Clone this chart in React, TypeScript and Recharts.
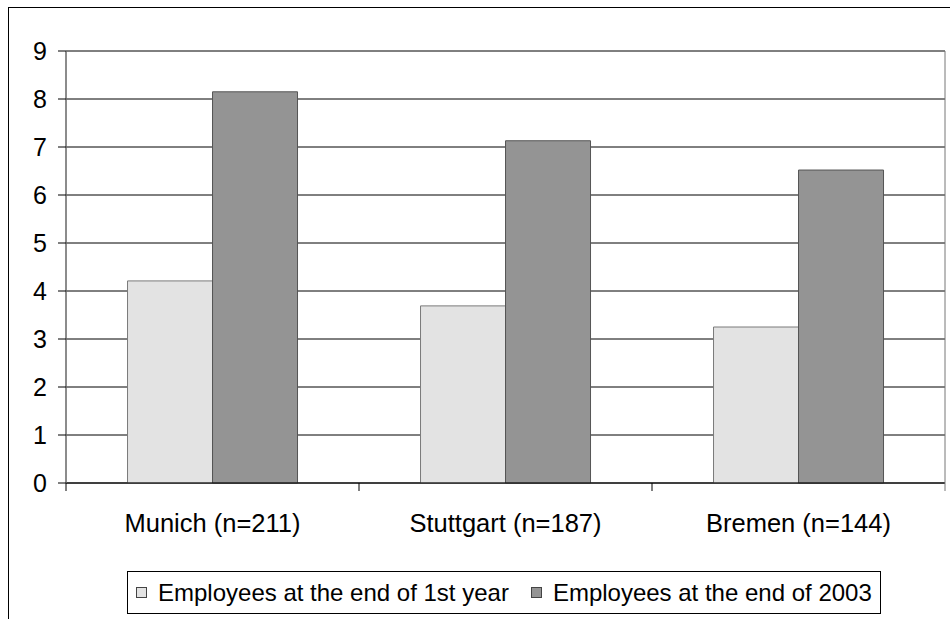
import React from "react";
import { Bar, BarChart, CartesianGrid, XAxis, YAxis } from "recharts";

const cities = ["Munich (n=211)", "Stuttgart (n=187)", "Bremen (n=144)"];
const firstYear = [4.21, 3.69, 3.25];
const end2003 = [8.15, 7.13, 6.52];
const yTicks = [0, 1, 2, 3, 4, 5, 6, 7, 8, 9];

const series = [
    { key: "firstYear", name: "Employees at the end of 1st year", fill: "#e3e3e3", stroke: "#7a7a7a" },
    { key: "end2003", name: "Employees at the end of 2003", fill: "#949494", stroke: "#555555" },
];

const font = "'Liberation Sans', Arial, sans-serif";

const chartData = cities.map((city, i) => ({
    city,
    firstYear: firstYear[i],
    end2003: end2003[i],
}));

// category label plus tick marks on the band edges (Excel style)
const CityTick = (props: any) => {
    const { x, y, payload, index, visibleTicksCount } = props;
    const half = payload.offset || 0;
    const top = y - 31;
    return (
        <g>
            <line x1={x - half} x2={x - half} y1={top} y2={top + 8} stroke="#000" />
            {index === visibleTicksCount - 1 && (
                <line x1={x + half} x2={x + half} y1={top} y2={top + 8} stroke="#777" />
            )}
            <text x={x} y={y} dy="0.71em" textAnchor="middle" fill="#000" fontSize={25.5} fontFamily={font}>
                {payload.value}
            </text>
        </g>
    );
};

export default function App() {
    return (
        <div style={{ position: "absolute", left: 0, top: 0, width: 950, height: 619, background: "#fff", overflow: "hidden" }}>
            <div
                style={{
                    position: "absolute",
                    left: 8,
                    top: 7,
                    width: 950,
                    height: 619,
                    borderLeft: "1px solid #000",
                    borderTop: "1px solid #000",
                }}
            />
            <div style={{ position: "absolute", left: 0, top: 0 }}>
                <BarChart
                    width={950}
                    height={619}
                    data={chartData}
                    margin={{ top: 51, right: 0, left: 0, bottom: 0 }}
                    barCategoryGap="21%"
                    barGap={0}
                >
                    <CartesianGrid
                        yAxisId="left"
                        vertical={false}
                        stroke="#000"
                        horizontal={{ stroke: "#000", shapeRendering: "crispEdges" } as any}
                    />
                    <XAxis
                        dataKey="city"
                        height={136}
                        axisLine={{ stroke: "#000" }}
                        tickLine={false}
                        tickSize={8}
                        tickMargin={23}
                        interval={0}
                        tick={<CityTick />}
                    />
                    <YAxis
                        yAxisId="left"
                        width={66}
                        domain={[0, 9]}
                        ticks={yTicks}
                        interval={0}
                        tickSize={8}
                        tickMargin={11}
                        axisLine={{ stroke: "#666", strokeWidth: 1.5 }}
                        tickLine={{ stroke: "#000" }}
                        tick={{ fill: "#000", fontSize: 25, fontFamily: font }}
                    />
                    <YAxis
                        yAxisId="right"
                        orientation="right"
                        width={5}
                        domain={[0, 9]}
                        ticks={yTicks}
                        tick={false}
                        tickLine={false}
                        axisLine={{ stroke: "#777" }}
                    />
                    {series.map((s) => (
                        <Bar
                            key={s.key}
                            yAxisId="left"
                            dataKey={s.key}
                            name={s.name}
                            fill={s.fill}
                            stroke={s.stroke}
                            strokeWidth={1}
                            isAnimationActive={false}
                        />
                    ))}
                </BarChart>
            </div>
            <div
                style={{
                    position: "absolute",
                    left: 127,
                    top: 571,
                    width: 754,
                    height: 43,
                    boxSizing: "border-box",
                    border: "1px solid #000",
                    display: "flex",
                    alignItems: "center",
                    paddingLeft: 8,
                    fontFamily: font,
                    fontSize: 24,
                    color: "#000",
                }}
            >
                {series.map((s, i) => (
                    <div key={s.key} style={{ display: "flex", alignItems: "center", marginLeft: i === 0 ? 0 : 22 }}>
                        <span
                            style={{
                                display: "inline-block",
                                width: 11,
                                height: 11,
                                boxSizing: "border-box",
                                background: s.fill,
                                border: "1px solid #444",
                                marginRight: 11,
                            }}
                        />
                        <span style={{ whiteSpace: "nowrap" }}>{s.name}</span>
                    </div>
                ))}
            </div>
        </div>
    );
}
